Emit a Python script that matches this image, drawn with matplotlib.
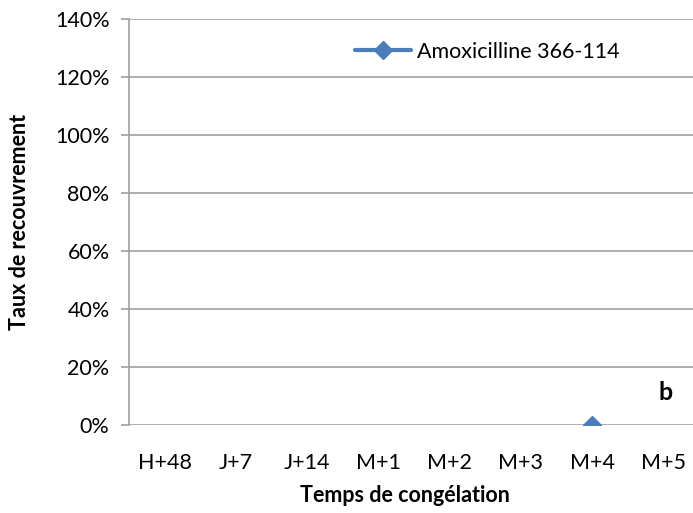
import numpy as np
import matplotlib.pyplot as plt
from matplotlib.ticker import FuncFormatter

categories = ['H+48', 'J+7', 'J+14', 'M+1', 'M+2', 'M+3', 'M+4', 'M+5']
amoxicilline = [np.nan, np.nan, np.nan, np.nan, np.nan, np.nan, 0.0, np.nan]
yticks = [0, 0.2, 0.4, 0.6, 0.8, 1.0, 1.2, 1.4]

plt.rcParams['font.family'] = ['Lato', 'DejaVu Sans']

fig = plt.figure(figsize=(6.93, 5.13), dpi=100)
ax = fig.add_axes([129 / 693, 88 / 513, 570 / 693, 406 / 513])

x = np.arange(len(categories))
ax.plot(x, amoxicilline, color='#4A7EBB', lw=3, marker='D', markersize=9.5,
        solid_capstyle='round', label='Amoxicilline 366-114')

ax.set_xlim(-0.5, len(categories) - 0.5)
ax.set_ylim(0, 1.4)
ax.set_yticks(yticks)
ax.yaxis.set_major_formatter(FuncFormatter(lambda v, p: '%d%%' % round(v * 100)))
ax.set_xticks(x)
ax.set_xticklabels(categories)

grid_col = '#A0A0A0'
ax.grid(axis='y', color=grid_col, lw=1.2)
ax.set_axisbelow(True)
for s in ['top', 'right', 'bottom']:
    ax.spines[s].set_visible(False)
ax.spines['left'].set_color(grid_col)
ax.spines['left'].set_linewidth(1.2)
ax.tick_params(axis='y', length=6, color=grid_col, width=1.2, labelsize=15.5, pad=8)
ax.tick_params(axis='x', length=0, labelsize=15.5, pad=20)

ax.set_ylabel('Taux de recouvrement', fontsize=15.5, fontweight='bold', va='center')
ax.yaxis.set_label_coords((20 - 129) / 570, 0.5)
ax.set_xlabel('Temps de congélation', fontsize=15.5, fontweight='bold', va='center')
ax.xaxis.set_label_coords((405 - 129) / 570, (425 - 496) / 406)

ax.text(666 / 693, 1 - 393 / 513, 'b', transform=fig.transFigure, fontsize=18,
        fontweight='bold', ha='center', va='center')

ax.legend(loc='center left', bbox_to_anchor=(355 / 693, 1 - 52 / 513),
          bbox_transform=fig.transFigure, frameon=False, fontsize=15.5,
          handlelength=2.6, handletextpad=0.3, borderpad=0, borderaxespad=0)

fig.savefig('out.png', dpi=100)
